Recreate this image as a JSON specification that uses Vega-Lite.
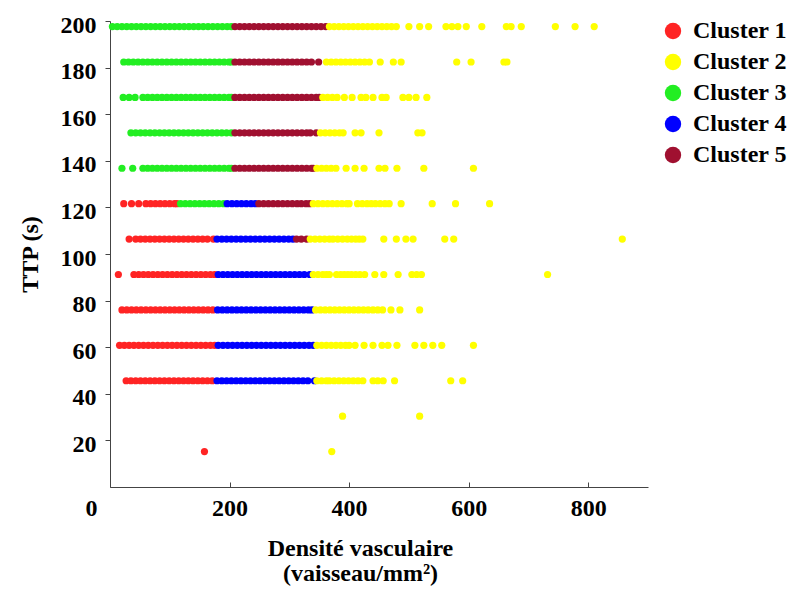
{
  "$schema": "https://vega.github.io/schema/vega-lite/v6.json",
  "width": 538,
  "height": 466,
  "autosize": "none",
  "padding": {"left": 110, "top": 21, "right": 149, "bottom": 110},
  "background": "white",
  "config": {
    "view": {"stroke": null},
    "axis": {
      "labelFont": "Liberation Serif", "labelFontWeight": "bold", "labelFontSize": 24, "labelColor": "black",
      "titleFont": "Liberation Serif", "titleFontWeight": "bold", "titleFontSize": 24, "titleColor": "black",
      "domainColor": "#444", "tickColor": "#444", "grid": false
    },
    "legend": {"labelFont": "Liberation Serif", "labelFontWeight": "bold", "labelFontSize": 24, "labelColor": "black"}
  },
  "datasets": {
    "pts": [
      {"d":4,"t":197.6,"c":3},{"d":12,"t":197.6,"c":3},{"d":20,"t":197.6,"c":3},{"d":28,"t":197.6,"c":3},{"d":36,"t":197.6,"c":3},{"d":44,"t":197.6,"c":3},{"d":52,"t":197.6,"c":3},{"d":60,"t":197.6,"c":3},{"d":68,"t":197.6,"c":3},{"d":76,"t":197.6,"c":3},{"d":84,"t":197.6,"c":3},{"d":92,"t":197.6,"c":3},{"d":100,"t":197.6,"c":3},{"d":108,"t":197.6,"c":3},{"d":116,"t":197.6,"c":3},{"d":124,"t":197.6,"c":3},{"d":132,"t":197.6,"c":3},{"d":140,"t":197.6,"c":3},{"d":148,"t":197.6,"c":3},{"d":156,"t":197.6,"c":3},{"d":164,"t":197.6,"c":3},{"d":172,"t":197.6,"c":3},{"d":180,"t":197.6,"c":3},{"d":188,"t":197.6,"c":3},{"d":196,"t":197.6,"c":3},{"d":203,"t":197.6,"c":3},
      {"d":209,"t":197.6,"c":5},{"d":217,"t":197.6,"c":5},{"d":225,"t":197.6,"c":5},{"d":233,"t":197.6,"c":5},{"d":241,"t":197.6,"c":5},{"d":249,"t":197.6,"c":5},{"d":257,"t":197.6,"c":5},{"d":265,"t":197.6,"c":5},{"d":273,"t":197.6,"c":5},{"d":281,"t":197.6,"c":5},{"d":289,"t":197.6,"c":5},{"d":297,"t":197.6,"c":5},{"d":305,"t":197.6,"c":5},{"d":313,"t":197.6,"c":5},{"d":321,"t":197.6,"c":5},{"d":329,"t":197.6,"c":5},{"d":337,"t":197.6,"c":5},{"d":345,"t":197.6,"c":5},{"d":353,"t":197.6,"c":5},{"d":361,"t":197.6,"c":5},
      {"d":367,"t":197.6,"c":2},{"d":375,"t":197.6,"c":2},{"d":383,"t":197.6,"c":2},{"d":391,"t":197.6,"c":2},{"d":399,"t":197.6,"c":2},{"d":407,"t":197.6,"c":2},{"d":415,"t":197.6,"c":2},{"d":423,"t":197.6,"c":2},{"d":431,"t":197.6,"c":2},{"d":439,"t":197.6,"c":2},{"d":447,"t":197.6,"c":2},{"d":455,"t":197.6,"c":2},{"d":463,"t":197.6,"c":2},{"d":471,"t":197.6,"c":2},{"d":479,"t":197.6,"c":2},{"d":500,"t":197.6,"c":2},{"d":518,"t":197.6,"c":2},{"d":533,"t":197.6,"c":2},{"d":562,"t":197.6,"c":2},{"d":572,"t":197.6,"c":2},{"d":582,"t":197.6,"c":2},{"d":596,"t":197.6,"c":2},{"d":622,"t":197.6,"c":2},{"d":663,"t":197.6,"c":2},{"d":671,"t":197.6,"c":2},{"d":688,"t":197.6,"c":2},{"d":745,"t":197.6,"c":2},{"d":778,"t":197.6,"c":2},{"d":810,"t":197.6,"c":2},

      {"d":23,"t":182.4,"c":3},{"d":31,"t":182.4,"c":3},{"d":39,"t":182.4,"c":3},{"d":47,"t":182.4,"c":3},{"d":55,"t":182.4,"c":3},{"d":63,"t":182.4,"c":3},{"d":71,"t":182.4,"c":3},{"d":79,"t":182.4,"c":3},{"d":87,"t":182.4,"c":3},{"d":95,"t":182.4,"c":3},{"d":103,"t":182.4,"c":3},{"d":111,"t":182.4,"c":3},{"d":119,"t":182.4,"c":3},{"d":127,"t":182.4,"c":3},{"d":135,"t":182.4,"c":3},{"d":143,"t":182.4,"c":3},{"d":151,"t":182.4,"c":3},{"d":159,"t":182.4,"c":3},{"d":167,"t":182.4,"c":3},{"d":175,"t":182.4,"c":3},{"d":183,"t":182.4,"c":3},{"d":191,"t":182.4,"c":3},{"d":199,"t":182.4,"c":3},{"d":203,"t":182.4,"c":3},
      {"d":209,"t":182.4,"c":5},{"d":217,"t":182.4,"c":5},{"d":225,"t":182.4,"c":5},{"d":233,"t":182.4,"c":5},{"d":241,"t":182.4,"c":5},{"d":249,"t":182.4,"c":5},{"d":257,"t":182.4,"c":5},{"d":265,"t":182.4,"c":5},{"d":273,"t":182.4,"c":5},{"d":281,"t":182.4,"c":5},{"d":289,"t":182.4,"c":5},{"d":297,"t":182.4,"c":5},{"d":305,"t":182.4,"c":5},{"d":313,"t":182.4,"c":5},{"d":321,"t":182.4,"c":5},{"d":329,"t":182.4,"c":5},{"d":337,"t":182.4,"c":5},{"d":349,"t":182.4,"c":5},
      {"d":362,"t":182.4,"c":2},{"d":370,"t":182.4,"c":2},{"d":378,"t":182.4,"c":2},{"d":386,"t":182.4,"c":2},{"d":394,"t":182.4,"c":2},{"d":402,"t":182.4,"c":2},{"d":410,"t":182.4,"c":2},{"d":418,"t":182.4,"c":2},{"d":426,"t":182.4,"c":2},{"d":434,"t":182.4,"c":2},{"d":452,"t":182.4,"c":2},{"d":474,"t":182.4,"c":2},{"d":487,"t":182.4,"c":2},{"d":580,"t":182.4,"c":2},{"d":604,"t":182.4,"c":2},{"d":659,"t":182.4,"c":2},{"d":664,"t":182.4,"c":2},

      {"d":22,"t":167.2,"c":3},{"d":32,"t":167.2,"c":3},{"d":42,"t":167.2,"c":3},{"d":55,"t":167.2,"c":3},{"d":63,"t":167.2,"c":3},{"d":71,"t":167.2,"c":3},{"d":79,"t":167.2,"c":3},{"d":87,"t":167.2,"c":3},{"d":95,"t":167.2,"c":3},{"d":103,"t":167.2,"c":3},{"d":111,"t":167.2,"c":3},{"d":119,"t":167.2,"c":3},{"d":127,"t":167.2,"c":3},{"d":135,"t":167.2,"c":3},{"d":143,"t":167.2,"c":3},{"d":151,"t":167.2,"c":3},{"d":159,"t":167.2,"c":3},{"d":167,"t":167.2,"c":3},{"d":175,"t":167.2,"c":3},{"d":183,"t":167.2,"c":3},{"d":191,"t":167.2,"c":3},{"d":199,"t":167.2,"c":3},{"d":203,"t":167.2,"c":3},
      {"d":209,"t":167.2,"c":5},{"d":217,"t":167.2,"c":5},{"d":225,"t":167.2,"c":5},{"d":233,"t":167.2,"c":5},{"d":241,"t":167.2,"c":5},{"d":249,"t":167.2,"c":5},{"d":257,"t":167.2,"c":5},{"d":265,"t":167.2,"c":5},{"d":273,"t":167.2,"c":5},{"d":281,"t":167.2,"c":5},{"d":289,"t":167.2,"c":5},{"d":297,"t":167.2,"c":5},{"d":305,"t":167.2,"c":5},{"d":313,"t":167.2,"c":5},{"d":321,"t":167.2,"c":5},{"d":329,"t":167.2,"c":5},{"d":337,"t":167.2,"c":5},{"d":345,"t":167.2,"c":5},{"d":350,"t":167.2,"c":5},
      {"d":356,"t":167.2,"c":2},{"d":364,"t":167.2,"c":2},{"d":372,"t":167.2,"c":2},{"d":380,"t":167.2,"c":2},{"d":392,"t":167.2,"c":2},{"d":405,"t":167.2,"c":2},{"d":420,"t":167.2,"c":2},{"d":428,"t":167.2,"c":2},{"d":440,"t":167.2,"c":2},{"d":455,"t":167.2,"c":2},{"d":462,"t":167.2,"c":2},{"d":490,"t":167.2,"c":2},{"d":500,"t":167.2,"c":2},{"d":512,"t":167.2,"c":2},{"d":530,"t":167.2,"c":2},

      {"d":35,"t":152,"c":3},{"d":43,"t":152,"c":3},{"d":51,"t":152,"c":3},{"d":59,"t":152,"c":3},{"d":67,"t":152,"c":3},{"d":75,"t":152,"c":3},{"d":83,"t":152,"c":3},{"d":91,"t":152,"c":3},{"d":99,"t":152,"c":3},{"d":107,"t":152,"c":3},{"d":115,"t":152,"c":3},{"d":123,"t":152,"c":3},{"d":131,"t":152,"c":3},{"d":139,"t":152,"c":3},{"d":147,"t":152,"c":3},{"d":155,"t":152,"c":3},{"d":163,"t":152,"c":3},{"d":171,"t":152,"c":3},{"d":179,"t":152,"c":3},{"d":187,"t":152,"c":3},{"d":195,"t":152,"c":3},{"d":203,"t":152,"c":3},
      {"d":209,"t":152,"c":5},{"d":217,"t":152,"c":5},{"d":225,"t":152,"c":5},{"d":233,"t":152,"c":5},{"d":241,"t":152,"c":5},{"d":249,"t":152,"c":5},{"d":257,"t":152,"c":5},{"d":265,"t":152,"c":5},{"d":273,"t":152,"c":5},{"d":281,"t":152,"c":5},{"d":289,"t":152,"c":5},{"d":297,"t":152,"c":5},{"d":305,"t":152,"c":5},{"d":313,"t":152,"c":5},{"d":321,"t":152,"c":5},{"d":329,"t":152,"c":5},{"d":335,"t":152,"c":5},{"d":345,"t":152,"c":5},
      {"d":352,"t":152,"c":2},{"d":360,"t":152,"c":2},{"d":368,"t":152,"c":2},{"d":376,"t":152,"c":2},{"d":384,"t":152,"c":2},{"d":390,"t":152,"c":2},{"d":410,"t":152,"c":2},{"d":420,"t":152,"c":2},{"d":450,"t":152,"c":2},{"d":515,"t":152,"c":2},{"d":522,"t":152,"c":2},

      {"d":20,"t":136.8,"c":3},{"d":38,"t":136.8,"c":3},{"d":55,"t":136.8,"c":3},{"d":63,"t":136.8,"c":3},{"d":71,"t":136.8,"c":3},{"d":79,"t":136.8,"c":3},{"d":87,"t":136.8,"c":3},{"d":95,"t":136.8,"c":3},{"d":103,"t":136.8,"c":3},{"d":111,"t":136.8,"c":3},{"d":119,"t":136.8,"c":3},{"d":127,"t":136.8,"c":3},{"d":135,"t":136.8,"c":3},{"d":143,"t":136.8,"c":3},{"d":151,"t":136.8,"c":3},{"d":159,"t":136.8,"c":3},{"d":167,"t":136.8,"c":3},{"d":175,"t":136.8,"c":3},{"d":183,"t":136.8,"c":3},{"d":191,"t":136.8,"c":3},{"d":199,"t":136.8,"c":3},{"d":203,"t":136.8,"c":3},
      {"d":209,"t":136.8,"c":5},{"d":217,"t":136.8,"c":5},{"d":225,"t":136.8,"c":5},{"d":233,"t":136.8,"c":5},{"d":241,"t":136.8,"c":5},{"d":249,"t":136.8,"c":5},{"d":257,"t":136.8,"c":5},{"d":265,"t":136.8,"c":5},{"d":273,"t":136.8,"c":5},{"d":281,"t":136.8,"c":5},{"d":289,"t":136.8,"c":5},{"d":297,"t":136.8,"c":5},{"d":305,"t":136.8,"c":5},{"d":313,"t":136.8,"c":5},{"d":321,"t":136.8,"c":5},{"d":329,"t":136.8,"c":5},{"d":337,"t":136.8,"c":5},{"d":340,"t":136.8,"c":5},
      {"d":346,"t":136.8,"c":2},{"d":354,"t":136.8,"c":2},{"d":362,"t":136.8,"c":2},{"d":370,"t":136.8,"c":2},{"d":378,"t":136.8,"c":2},{"d":395,"t":136.8,"c":2},{"d":410,"t":136.8,"c":2},{"d":425,"t":136.8,"c":2},{"d":450,"t":136.8,"c":2},{"d":460,"t":136.8,"c":2},{"d":480,"t":136.8,"c":2},{"d":525,"t":136.8,"c":2},{"d":608,"t":136.8,"c":2},

      {"d":23,"t":121.6,"c":1},{"d":36,"t":121.6,"c":1},{"d":48,"t":121.6,"c":1},{"d":60,"t":121.6,"c":1},{"d":68,"t":121.6,"c":1},{"d":76,"t":121.6,"c":1},{"d":84,"t":121.6,"c":1},{"d":92,"t":121.6,"c":1},{"d":100,"t":121.6,"c":1},{"d":108,"t":121.6,"c":1},{"d":112,"t":121.6,"c":1},
      {"d":118,"t":121.6,"c":3},{"d":126,"t":121.6,"c":3},{"d":134,"t":121.6,"c":3},{"d":142,"t":121.6,"c":3},{"d":150,"t":121.6,"c":3},{"d":158,"t":121.6,"c":3},{"d":166,"t":121.6,"c":3},{"d":174,"t":121.6,"c":3},{"d":182,"t":121.6,"c":3},{"d":190,"t":121.6,"c":3},
      {"d":196,"t":121.6,"c":4},{"d":204,"t":121.6,"c":4},{"d":212,"t":121.6,"c":4},{"d":220,"t":121.6,"c":4},{"d":228,"t":121.6,"c":4},{"d":236,"t":121.6,"c":4},{"d":243,"t":121.6,"c":4},
      {"d":249,"t":121.6,"c":5},{"d":257,"t":121.6,"c":5},{"d":265,"t":121.6,"c":5},{"d":273,"t":121.6,"c":5},{"d":281,"t":121.6,"c":5},{"d":289,"t":121.6,"c":5},{"d":297,"t":121.6,"c":5},{"d":305,"t":121.6,"c":5},{"d":313,"t":121.6,"c":5},{"d":320,"t":121.6,"c":5},{"d":328,"t":121.6,"c":5},{"d":334,"t":121.6,"c":5},
      {"d":340,"t":121.6,"c":2},{"d":348,"t":121.6,"c":2},{"d":356,"t":121.6,"c":2},{"d":364,"t":121.6,"c":2},{"d":372,"t":121.6,"c":2},{"d":380,"t":121.6,"c":2},{"d":388,"t":121.6,"c":2},{"d":396,"t":121.6,"c":2},{"d":400,"t":121.6,"c":2},{"d":414,"t":121.6,"c":2},{"d":422,"t":121.6,"c":2},{"d":430,"t":121.6,"c":2},{"d":437,"t":121.6,"c":2},{"d":444,"t":121.6,"c":2},{"d":452,"t":121.6,"c":2},{"d":460,"t":121.6,"c":2},{"d":467,"t":121.6,"c":2},{"d":487,"t":121.6,"c":2},{"d":539,"t":121.6,"c":2},{"d":578,"t":121.6,"c":2},{"d":635,"t":121.6,"c":2},

      {"d":32,"t":106.4,"c":1},{"d":43,"t":106.4,"c":1},{"d":51,"t":106.4,"c":1},{"d":59,"t":106.4,"c":1},{"d":67,"t":106.4,"c":1},{"d":75,"t":106.4,"c":1},{"d":83,"t":106.4,"c":1},{"d":91,"t":106.4,"c":1},{"d":99,"t":106.4,"c":1},{"d":107,"t":106.4,"c":1},{"d":115,"t":106.4,"c":1},{"d":123,"t":106.4,"c":1},{"d":131,"t":106.4,"c":1},{"d":139,"t":106.4,"c":1},{"d":147,"t":106.4,"c":1},{"d":155,"t":106.4,"c":1},{"d":163,"t":106.4,"c":1},{"d":173,"t":106.4,"c":1},
      {"d":179,"t":106.4,"c":4},{"d":187,"t":106.4,"c":4},{"d":195,"t":106.4,"c":4},{"d":203,"t":106.4,"c":4},{"d":211,"t":106.4,"c":4},{"d":219,"t":106.4,"c":4},{"d":227,"t":106.4,"c":4},{"d":235,"t":106.4,"c":4},{"d":243,"t":106.4,"c":4},{"d":251,"t":106.4,"c":4},{"d":259,"t":106.4,"c":4},{"d":267,"t":106.4,"c":4},{"d":275,"t":106.4,"c":4},{"d":283,"t":106.4,"c":4},{"d":291,"t":106.4,"c":4},{"d":299,"t":106.4,"c":4},{"d":306,"t":106.4,"c":4},
      {"d":312,"t":106.4,"c":5},{"d":320,"t":106.4,"c":5},{"d":329,"t":106.4,"c":5},
      {"d":335,"t":106.4,"c":2},{"d":343,"t":106.4,"c":2},{"d":351,"t":106.4,"c":2},{"d":359,"t":106.4,"c":2},{"d":367,"t":106.4,"c":2},{"d":373,"t":106.4,"c":2},{"d":381,"t":106.4,"c":2},{"d":389,"t":106.4,"c":2},{"d":397,"t":106.4,"c":2},{"d":404,"t":106.4,"c":2},{"d":411,"t":106.4,"c":2},{"d":417,"t":106.4,"c":2},{"d":423,"t":106.4,"c":2},{"d":458,"t":106.4,"c":2},{"d":479,"t":106.4,"c":2},{"d":495,"t":106.4,"c":2},{"d":507,"t":106.4,"c":2},{"d":560,"t":106.4,"c":2},{"d":575,"t":106.4,"c":2},{"d":857,"t":106.4,"c":2},

      {"d":14,"t":91.2,"c":1},{"d":40,"t":91.2,"c":1},{"d":48,"t":91.2,"c":1},{"d":56,"t":91.2,"c":1},{"d":64,"t":91.2,"c":1},{"d":72,"t":91.2,"c":1},{"d":80,"t":91.2,"c":1},{"d":88,"t":91.2,"c":1},{"d":96,"t":91.2,"c":1},{"d":104,"t":91.2,"c":1},{"d":112,"t":91.2,"c":1},{"d":120,"t":91.2,"c":1},{"d":128,"t":91.2,"c":1},{"d":136,"t":91.2,"c":1},{"d":144,"t":91.2,"c":1},{"d":152,"t":91.2,"c":1},{"d":160,"t":91.2,"c":1},{"d":168,"t":91.2,"c":1},{"d":175,"t":91.2,"c":1},
      {"d":181,"t":91.2,"c":4},{"d":189,"t":91.2,"c":4},{"d":197,"t":91.2,"c":4},{"d":205,"t":91.2,"c":4},{"d":213,"t":91.2,"c":4},{"d":221,"t":91.2,"c":4},{"d":229,"t":91.2,"c":4},{"d":237,"t":91.2,"c":4},{"d":245,"t":91.2,"c":4},{"d":253,"t":91.2,"c":4},{"d":261,"t":91.2,"c":4},{"d":269,"t":91.2,"c":4},{"d":277,"t":91.2,"c":4},{"d":285,"t":91.2,"c":4},{"d":293,"t":91.2,"c":4},{"d":301,"t":91.2,"c":4},{"d":309,"t":91.2,"c":4},{"d":317,"t":91.2,"c":4},{"d":325,"t":91.2,"c":4},{"d":334,"t":91.2,"c":4},
      {"d":340,"t":91.2,"c":2},{"d":348,"t":91.2,"c":2},{"d":356,"t":91.2,"c":2},{"d":362,"t":91.2,"c":2},{"d":367,"t":91.2,"c":2},{"d":379,"t":91.2,"c":2},{"d":386,"t":91.2,"c":2},{"d":392,"t":91.2,"c":2},{"d":398,"t":91.2,"c":2},{"d":404,"t":91.2,"c":2},{"d":411,"t":91.2,"c":2},{"d":418,"t":91.2,"c":2},{"d":426,"t":91.2,"c":2},{"d":443,"t":91.2,"c":2},{"d":458,"t":91.2,"c":2},{"d":482,"t":91.2,"c":2},{"d":505,"t":91.2,"c":2},{"d":513,"t":91.2,"c":2},{"d":521,"t":91.2,"c":2},{"d":732,"t":91.2,"c":2},

      {"d":20,"t":76,"c":1},{"d":28,"t":76,"c":1},{"d":36,"t":76,"c":1},{"d":44,"t":76,"c":1},{"d":52,"t":76,"c":1},{"d":60,"t":76,"c":1},{"d":68,"t":76,"c":1},{"d":76,"t":76,"c":1},{"d":84,"t":76,"c":1},{"d":92,"t":76,"c":1},{"d":100,"t":76,"c":1},{"d":108,"t":76,"c":1},{"d":116,"t":76,"c":1},{"d":124,"t":76,"c":1},{"d":132,"t":76,"c":1},{"d":140,"t":76,"c":1},{"d":148,"t":76,"c":1},{"d":156,"t":76,"c":1},{"d":164,"t":76,"c":1},{"d":172,"t":76,"c":1},
      {"d":180,"t":76,"c":4},{"d":188,"t":76,"c":4},{"d":196,"t":76,"c":4},{"d":204,"t":76,"c":4},{"d":212,"t":76,"c":4},{"d":220,"t":76,"c":4},{"d":228,"t":76,"c":4},{"d":236,"t":76,"c":4},{"d":244,"t":76,"c":4},{"d":252,"t":76,"c":4},{"d":260,"t":76,"c":4},{"d":268,"t":76,"c":4},{"d":276,"t":76,"c":4},{"d":284,"t":76,"c":4},{"d":292,"t":76,"c":4},{"d":300,"t":76,"c":4},{"d":308,"t":76,"c":4},{"d":316,"t":76,"c":4},{"d":324,"t":76,"c":4},{"d":332,"t":76,"c":4},{"d":338,"t":76,"c":4},
      {"d":344,"t":76,"c":2},{"d":352,"t":76,"c":2},{"d":360,"t":76,"c":2},{"d":368,"t":76,"c":2},{"d":376,"t":76,"c":2},{"d":384,"t":76,"c":2},{"d":392,"t":76,"c":2},{"d":400,"t":76,"c":2},{"d":408,"t":76,"c":2},{"d":416,"t":76,"c":2},{"d":424,"t":76,"c":2},{"d":432,"t":76,"c":2},{"d":440,"t":76,"c":2},{"d":448,"t":76,"c":2},{"d":456,"t":76,"c":2},{"d":470,"t":76,"c":2},{"d":485,"t":76,"c":2},{"d":518,"t":76,"c":2},

      {"d":16,"t":60.8,"c":1},{"d":24,"t":60.8,"c":1},{"d":32,"t":60.8,"c":1},{"d":40,"t":60.8,"c":1},{"d":48,"t":60.8,"c":1},{"d":56,"t":60.8,"c":1},{"d":64,"t":60.8,"c":1},{"d":72,"t":60.8,"c":1},{"d":80,"t":60.8,"c":1},{"d":88,"t":60.8,"c":1},{"d":96,"t":60.8,"c":1},{"d":104,"t":60.8,"c":1},{"d":112,"t":60.8,"c":1},{"d":120,"t":60.8,"c":1},{"d":128,"t":60.8,"c":1},{"d":136,"t":60.8,"c":1},{"d":144,"t":60.8,"c":1},{"d":152,"t":60.8,"c":1},{"d":160,"t":60.8,"c":1},{"d":168,"t":60.8,"c":1},{"d":175,"t":60.8,"c":1},
      {"d":181,"t":60.8,"c":4},{"d":189,"t":60.8,"c":4},{"d":197,"t":60.8,"c":4},{"d":205,"t":60.8,"c":4},{"d":213,"t":60.8,"c":4},{"d":221,"t":60.8,"c":4},{"d":229,"t":60.8,"c":4},{"d":237,"t":60.8,"c":4},{"d":245,"t":60.8,"c":4},{"d":253,"t":60.8,"c":4},{"d":261,"t":60.8,"c":4},{"d":269,"t":60.8,"c":4},{"d":277,"t":60.8,"c":4},{"d":285,"t":60.8,"c":4},{"d":293,"t":60.8,"c":4},{"d":301,"t":60.8,"c":4},{"d":309,"t":60.8,"c":4},{"d":317,"t":60.8,"c":4},{"d":325,"t":60.8,"c":4},{"d":333,"t":60.8,"c":4},{"d":340,"t":60.8,"c":4},
      {"d":346,"t":60.8,"c":2},{"d":354,"t":60.8,"c":2},{"d":362,"t":60.8,"c":2},{"d":370,"t":60.8,"c":2},{"d":378,"t":60.8,"c":2},{"d":386,"t":60.8,"c":2},{"d":394,"t":60.8,"c":2},{"d":400,"t":60.8,"c":2},{"d":410,"t":60.8,"c":2},{"d":425,"t":60.8,"c":2},{"d":440,"t":60.8,"c":2},{"d":455,"t":60.8,"c":2},{"d":465,"t":60.8,"c":2},{"d":480,"t":60.8,"c":2},{"d":510,"t":60.8,"c":2},{"d":525,"t":60.8,"c":2},{"d":540,"t":60.8,"c":2},{"d":555,"t":60.8,"c":2},{"d":608,"t":60.8,"c":2},

      {"d":27,"t":45.6,"c":1},{"d":35,"t":45.6,"c":1},{"d":43,"t":45.6,"c":1},{"d":51,"t":45.6,"c":1},{"d":59,"t":45.6,"c":1},{"d":67,"t":45.6,"c":1},{"d":75,"t":45.6,"c":1},{"d":83,"t":45.6,"c":1},{"d":91,"t":45.6,"c":1},{"d":99,"t":45.6,"c":1},{"d":107,"t":45.6,"c":1},{"d":115,"t":45.6,"c":1},{"d":123,"t":45.6,"c":1},{"d":131,"t":45.6,"c":1},{"d":139,"t":45.6,"c":1},{"d":147,"t":45.6,"c":1},{"d":155,"t":45.6,"c":1},{"d":163,"t":45.6,"c":1},{"d":171,"t":45.6,"c":1},
      {"d":179,"t":45.6,"c":4},{"d":187,"t":45.6,"c":4},{"d":195,"t":45.6,"c":4},{"d":203,"t":45.6,"c":4},{"d":211,"t":45.6,"c":4},{"d":219,"t":45.6,"c":4},{"d":227,"t":45.6,"c":4},{"d":235,"t":45.6,"c":4},{"d":243,"t":45.6,"c":4},{"d":251,"t":45.6,"c":4},{"d":259,"t":45.6,"c":4},{"d":267,"t":45.6,"c":4},{"d":275,"t":45.6,"c":4},{"d":283,"t":45.6,"c":4},{"d":291,"t":45.6,"c":4},{"d":299,"t":45.6,"c":4},{"d":307,"t":45.6,"c":4},{"d":315,"t":45.6,"c":4},{"d":323,"t":45.6,"c":4},{"d":331,"t":45.6,"c":4},{"d":342,"t":45.6,"c":4},
      {"d":346,"t":45.6,"c":2},{"d":354,"t":45.6,"c":2},{"d":362,"t":45.6,"c":2},{"d":367,"t":45.6,"c":2},{"d":375,"t":45.6,"c":2},{"d":383,"t":45.6,"c":2},{"d":391,"t":45.6,"c":2},{"d":399,"t":45.6,"c":2},{"d":407,"t":45.6,"c":2},{"d":415,"t":45.6,"c":2},{"d":423,"t":45.6,"c":2},{"d":440,"t":45.6,"c":2},{"d":448,"t":45.6,"c":2},{"d":457,"t":45.6,"c":2},{"d":476,"t":45.6,"c":2},{"d":570,"t":45.6,"c":2},{"d":590,"t":45.6,"c":2},

      {"d":389,"t":30.4,"c":2},{"d":518,"t":30.4,"c":2},
      {"d":158,"t":15.2,"c":1},{"d":371,"t":15.2,"c":2}
    ]
  },
  "data": {"name": "pts"},
  "mark": {"type": "point", "filled": true, "shape": "circle", "size": 52, "opacity": 1, "strokeWidth": 0},
  "encoding": {
    "x": {
      "field": "d", "type": "quantitative",
      "scale": {"domain": [0, 900], "nice": false, "zero": false},
      "axis": {
        "values": [0, 200, 400, 600, 800],
        "title": ["Densité vasculaire", "(vaisseau/mm²)"],
        "titleLineHeight": 25,
        "titlePadding": 16,
        "titleX": 250,
        "tickSize": -5,
        "labelPadding": 14,
        "labelFlush": false,
        "labelOffset": {"condition": {"test": "datum.value === 0", "value": -19}, "value": 0}
      }
    },
    "y": {
      "field": "t", "type": "quantitative",
      "scale": {"domain": [0, 200], "nice": false},
      "axis": {
        "values": [20, 40, 60, 80, 100, 120, 140, 160, 180, 200],
        "title": "TTP (s)",
        "titlePadding": 18,
        "tickSize": 5,
        "labelPadding": 9,
        "labelOffset": 4,
        "labelFlush": false
      }
    },
    "color": {
      "field": "c", "type": "nominal",
      "scale": {"domain": [1, 2, 3, 4, 5], "range": ["#ff2424", "#ffff00", "#22ee22", "#0000ff", "#a01030"]},
      "legend": {
        "title": null,
        "orient": "none",
        "legendX": 551,
        "legendY": -2,
        "symbolType": "circle",
        "symbolSize": 270,
        "symbolStrokeWidth": 0,
        "symbolOpacity": 1,
        "labelOffset": 8,
        "rowPadding": 7,
        "padding": 0,
        "labelExpr": "'Cluster ' + datum.label"
      }
    }
  }
}
